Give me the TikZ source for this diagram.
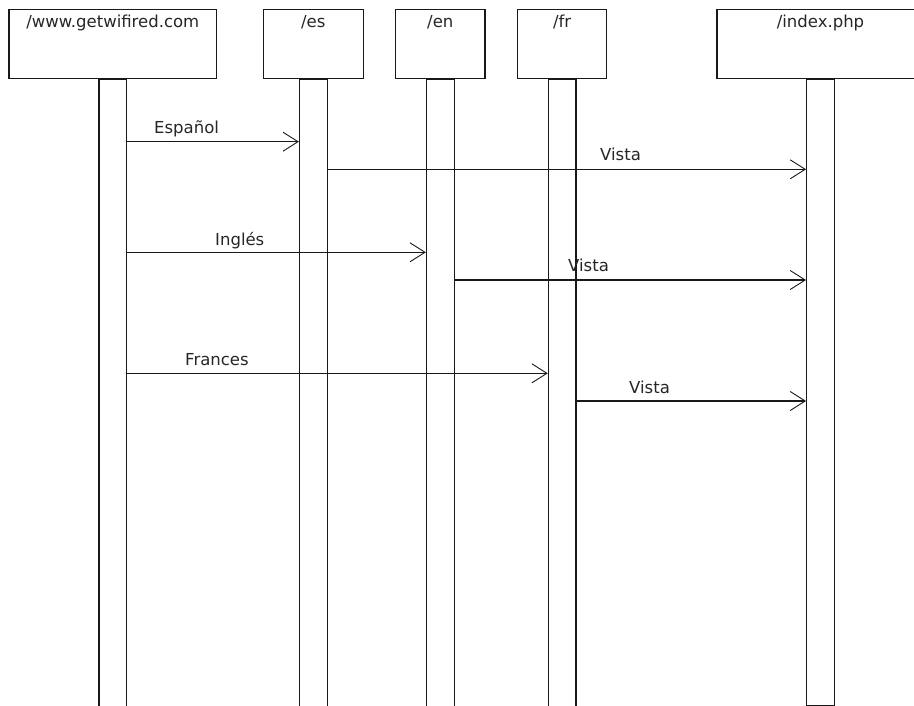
\documentclass[tikz,border=0pt]{standalone}
\usepackage{fontspec}
\setmainfont{DejaVu Sans}
\usetikzlibrary{arrows.meta}
\begin{document}
\begin{tikzpicture}[x=1pt,y=-1pt,
  every node/.style={font=\fontsize{16.5}{18}\selectfont, text=black!85},
  objbox/.style={draw=black!90, line width=1.2pt, inner sep=0, minimum height=69pt, anchor=north},
  lifeline/.style={draw=black!90, line width=1.2pt, inner sep=0, minimum width=27.7pt, anchor=north},
  title/.style={anchor=base, inner sep=0},
  msg/.style={draw=black!90, line width=1.2pt,
    -{Straight Barb[length=15pt,width=19pt,line width=0.9pt]}},
  msglabel/.style={anchor=base west, inner sep=0}]
  \useasboundingbox (0,0) rectangle (914,705);

  % object boxes
  \node[objbox, minimum width=207.7pt] (b1)  at (112.8,9) {};
  \node[objbox, minimum width=100pt]   (bes) at (313.3,9) {};
  \node[objbox, minimum width=89.3pt]  (ben) at (440.3,9) {};
  \node[objbox, minimum width=89pt]    (bfr) at (562.2,9) {};
  \node[objbox, minimum width=207pt]   (bix) at (820.5,9) {};

  % object titles
  \node[title] at ([yshift=-18pt]b1.north)  {/www.getwifired.com};
  \node[title] at ([yshift=-18pt]bes.north) {/es};
  \node[title] at ([yshift=-18pt]ben.north) {/en};
  \node[title] at ([yshift=-18pt]bfr.north) {/fr};
  \node[title] at ([yshift=-18pt]bix.north) {/index.php};

  % lifelines
  \node[lifeline, minimum height=640pt] (l1)  at (b1.south)  {};
  \node[lifeline, minimum height=640pt] (les) at (bes.south) {};
  \node[lifeline, minimum height=640pt] (len) at (ben.south) {};
  \node[lifeline, minimum height=640pt] (lfr) at (bfr.south) {};
  \node[lifeline, minimum height=626pt] (lix) at (bix.south) {};

  % messages
  \draw[msg] (l1.east |- 0,141.7)  -- (les.west |- 0,141.7);
  \draw[msg] (les.east |- 0,169.3) -- (lix.west |- 0,169.3);
  \draw[msg] (l1.east |- 0,252.3)  -- (len.west |- 0,252.3);
  \draw[msg] (len.east |- 0,280)   -- (lix.west |- 0,280);
  \draw[msg] (l1.east |- 0,373.3)  -- (lfr.west |- 0,373.3);
  \draw[msg] (lfr.east |- 0,401)   -- (lix.west |- 0,401);

  % message labels
  \node[msglabel] at (154,133)   {Español};
  \node[msglabel] at (600,160.5) {Vista};
  \node[msglabel] at (215,245)   {Inglés};
  \node[msglabel] at (568,271.5) {Vista};
  \node[msglabel] at (185,365)   {Frances};
  \node[msglabel] at (629,393)   {Vista};
\end{tikzpicture}
\end{document}
